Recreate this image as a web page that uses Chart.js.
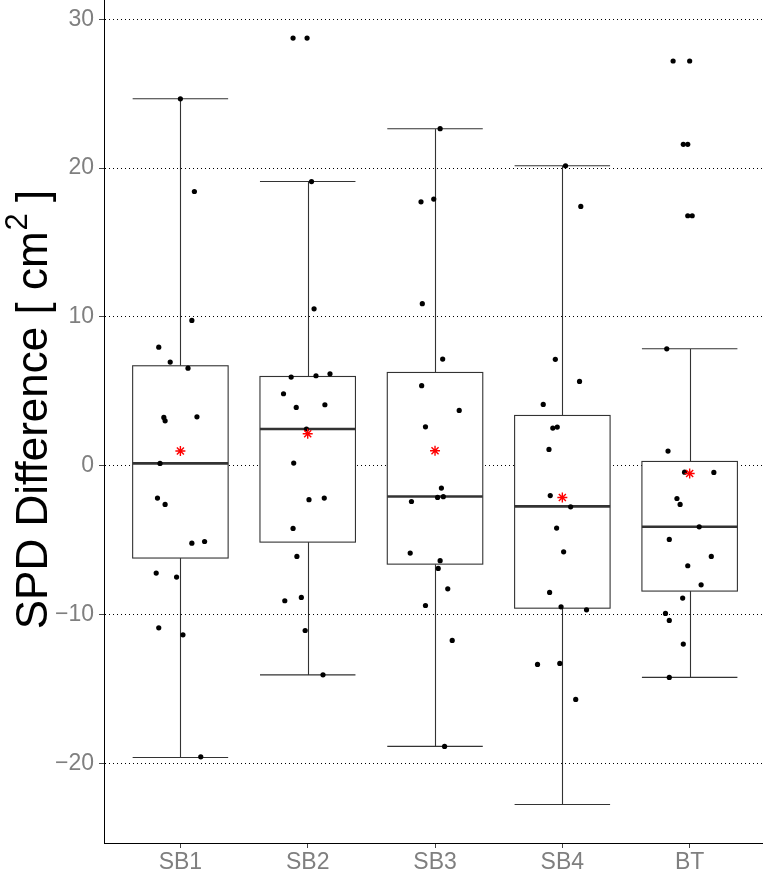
<!DOCTYPE html>
<html>
<head>
<meta charset="utf-8">
<script src="https://cdn.jsdelivr.net/npm/chart.js@4.4.0/dist/chart.umd.min.js"></script>
<style>
  html, body { margin: 0; padding: 0; background: #fff; }
  #wrap { width: 763px; height: 871px; }
</style>
</head>
<body>
<div id="wrap"><canvas id="chart" width="763" height="871"></canvas></div>
<script>
const categories = ['SB1', 'SB2', 'SB3', 'SB4', 'BT'];
const yTicks = [-20, -10, 0, 10, 20, 30];
const yTitle = ['SPD Difference [ cm', '2', ' ]'];

// box summaries
const whiskerLow = [-19.6, -14.05, -18.86, -22.76, -14.22];
const q1 = [-6.2, -5.13, -6.61, -9.57, -8.42];
const median = [0.16, 2.47, -2.06, -2.73, -4.1];
const q3 = [6.72, 6.0, 6.27, 3.38, 0.29];
const whiskerHigh = [24.66, 19.1, 22.65, 20.16, 7.86];
const means = [0.99, 2.15, 1.01, -2.13, -0.52];

// observations per group, with the horizontal jitter seen in the picture (in category widths)
const sb1Values = [24.66, 18.43, 9.77, 7.97, 6.97, 6.56, 3.25, 3.02, 3.29, 0.16, -2.17, -2.6, -5.2, -5.09, -7.21, -7.48, -10.89, -11.36, -19.56];
const sb1Jitter = [0.0, 0.11, 0.09, -0.17, -0.08, 0.06, -0.13, -0.12, 0.13, -0.16, -0.18, -0.12, 0.09, 0.19, -0.19, -0.03, -0.17, 0.02, 0.16];
const sb2Values = [28.74, 28.74, 19.1, 10.55, 5.96, 6.05, 6.18, 4.84, 3.92, 4.1, 2.47, 0.18, -2.28, -2.17, -4.21, -6.09, -9.07, -8.85, -11.07, -14.05];
const sb2Jitter = [-0.115, -0.005, 0.03, 0.05, -0.13, 0.065, 0.175, -0.19, -0.09, 0.135, -0.01, -0.11, 0.01, 0.13, -0.115, -0.085, -0.18, -0.05, -0.02, 0.12];
const sb3Values = [22.65, 17.74, 17.92, 10.89, 7.17, 5.38, 3.72, 2.62, -1.5, -2.13, -2.08, -2.4, -5.87, -6.38, -6.9, -8.27, -9.39, -11.74, -18.86];
const sb3Jitter = [0.04, -0.11, -0.01, -0.1, 0.06, -0.105, 0.19, -0.075, 0.05, 0.02, 0.065, -0.185, -0.195, 0.04, 0.025, 0.1, -0.075, 0.135, 0.075];
const sb4Values = [20.16, 17.43, 7.15, 5.67, 4.12, 2.53, 2.6, 1.1, -2.0, -2.76, -4.19, -5.78, -8.51, -9.48, -9.68, -13.35, -13.28, -15.7];
const sb4Jitter = [0.025, 0.145, -0.055, 0.135, -0.15, -0.075, -0.04, -0.105, -0.095, 0.065, -0.045, 0.01, -0.1, -0.01, 0.19, -0.195, -0.02, 0.105];
const btValues = [27.2, 27.2, 21.6, 21.6, 16.8, 16.8, 7.86, 0.99, -0.43, -0.45, -2.2, -2.6, -4.1, -4.95, -6.09, -6.72, -8.0, -8.89, -9.92, -10.39, -11.98, -14.22];
const btJitter = [-0.13, 0.0, -0.05, -0.015, -0.015, 0.02, -0.18, -0.17, -0.04, 0.19, -0.1, -0.075, 0.075, -0.16, 0.17, -0.015, 0.09, -0.055, -0.19, -0.16, -0.05, -0.16];

const groupValues = [sb1Values, sb2Values, sb3Values, sb4Values, btValues];
const groupJitter = [sb1Jitter, sb2Jitter, sb3Jitter, sb4Jitter, btJitter];

const FONT = "'Liberation Sans', Arial, Helvetica, sans-serif";
const BOX_HALF = 0.375;

const points = [];
groupValues.forEach((vals, i) => {
  vals.forEach((v, j) => points.push({ x: i + 1 + groupJitter[i][j], y: v }));
});
const meanPoints = means.map((m, i) => ({ x: i + 1, y: m }));

// boxes, whiskers and medians drawn under the points, placed through the chart's scales
const boxPlugin = {
  id: 'boxes',
  beforeDatasetsDraw(chart) {
    const { ctx, scales: { x, y } } = chart;
    ctx.save();
    ctx.strokeStyle = '#333333';
    categories.forEach((c, i) => {
      const cx = Math.round(x.getPixelForValue(i + 1)) + 0.5;
      const left = x.getPixelForValue(i + 1 - BOX_HALF);
      const right = x.getPixelForValue(i + 1 + BOX_HALF);
      const yLo = y.getPixelForValue(whiskerLow[i]);
      const yHi = y.getPixelForValue(whiskerHigh[i]);
      const yQ1 = y.getPixelForValue(q1[i]);
      const yQ3 = y.getPixelForValue(q3[i]);
      const yMed = y.getPixelForValue(median[i]);

      ctx.lineWidth = 1.1;
      ctx.beginPath();
      ctx.moveTo(cx, yHi); ctx.lineTo(cx, yQ3);
      ctx.moveTo(cx, yQ1); ctx.lineTo(cx, yLo);
      ctx.moveTo(left, yHi); ctx.lineTo(right, yHi);
      ctx.moveTo(left, yLo); ctx.lineTo(right, yLo);
      ctx.stroke();

      ctx.fillStyle = '#ffffff';
      ctx.fillRect(left, yQ3, right - left, yQ1 - yQ3);
      ctx.strokeRect(left, yQ3, right - left, yQ1 - yQ3);

      ctx.lineWidth = 2.6;
      ctx.beginPath();
      ctx.moveTo(left, yMed); ctx.lineTo(right, yMed);
      ctx.stroke();
    });
    ctx.restore();
  }
};

// y axis title with a real superscript, rotated along the left side
const titlePlugin = {
  id: 'ytitle',
  afterDraw(chart) {
    const { ctx, chartArea } = chart;
    const big = '44px ' + FONT;
    const small = '31px ' + FONT;
    ctx.save();
    ctx.font = big;
    const w0 = ctx.measureText(yTitle[0]).width;
    const w2 = ctx.measureText(yTitle[2]).width;
    ctx.font = small;
    const w1 = ctx.measureText(yTitle[1]).width;
    const total = w0 + w1 + w2;
    const cy = (chartArea.top + chartArea.bottom) / 2 - 12;
    ctx.translate(47, cy + total / 2);
    ctx.rotate(-Math.PI / 2);
    ctx.fillStyle = '#000000';
    ctx.textBaseline = 'alphabetic';
    ctx.textAlign = 'left';
    ctx.font = big;
    ctx.fillText(yTitle[0], 0, 0);
    ctx.font = small;
    ctx.fillText(yTitle[1], w0 + 1, -20);
    ctx.font = big;
    ctx.fillText(yTitle[2], w0 + w1, 0);
    ctx.restore();
  }
};

new Chart(document.getElementById('chart'), {
  type: 'scatter',
  data: {
    datasets: [
      {
        label: 'mean',
        data: meanPoints,
        pointStyle: 'star',
        pointRadius: 5,
        borderColor: '#ff0000',
        backgroundColor: '#ff0000',
        pointBorderWidth: 1.4,
        order: 0
      },
      {
        label: 'obs',
        data: points,
        pointRadius: 2.6,
        backgroundColor: '#000000',
        borderColor: '#000000',
        borderWidth: 0,
        order: 1
      }
    ]
  },
  options: {
    responsive: false,
    animation: false,
    events: [],
    layout: { padding: 0, autoPadding: false },
    plugins: {
      legend: { display: false },
      tooltip: { enabled: false }
    },
    scales: {
      x: {
        type: 'linear',
        min: 0.4,
        max: 5.576,
        afterBuildTicks: s => { s.ticks = categories.map((c, i) => ({ value: i + 1 })); },
        afterFit: s => { s.height = 28; s.paddingLeft = 0; s.paddingRight = 0; },
        ticks: {
          callback: v => categories[v - 1],
          color: '#7f7f7f',
          font: { family: FONT, size: 23 },
          padding: 1,
          maxRotation: 0
        },
        grid: { drawOnChartArea: false, drawTicks: true, tickLength: 5, tickColor: '#444444', tickWidth: 1 },
        border: { display: true, color: '#000000', width: 1 }
      },
      y: {
        min: -25.35,
        max: 31.3,
        afterBuildTicks: s => { s.ticks = yTicks.map(v => ({ value: v })); },
        afterFit: s => { s.width = 104; s.paddingTop = 0; s.paddingBottom = 0; },
        ticks: {
          callback: v => (v < 0 ? '\u2212' + Math.abs(v) : String(v)),
          color: '#7f7f7f',
          font: { family: FONT, size: 23 },
          padding: 5
        },
        grid: { color: '#000000', lineWidth: 1, tickLength: 5, tickColor: '#444444', tickWidth: 1 },
        border: { display: true, color: '#000000', width: 1, dash: [1, 3] },
        title: { display: false }
      }
    }
  },
  plugins: [boxPlugin, titlePlugin]
});
</script>
</body>
</html>
